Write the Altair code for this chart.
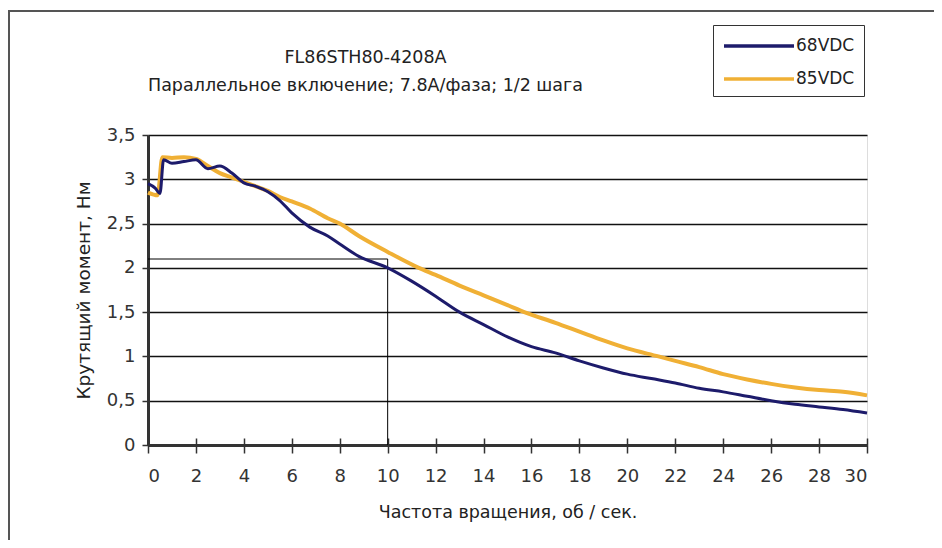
import altair as alt
import pandas as pd

# ---- data ----
series_names = ["68VDC", "85VDC"]
series_colors = ["#1d1b6b", "#f0b035"]

x_68 = [0, 0.3, 0.5, 0.65, 1, 1.5, 2, 2.5, 3, 3.5, 4, 4.5, 5, 5.5, 6, 6.75, 7.5, 8, 8.8,
        10, 11, 12, 13, 14, 15, 16, 17, 18, 19, 20, 21, 22, 23, 24, 25, 26, 27, 28, 29, 30]
y_68 = [2.95, 2.9, 2.84, 3.22, 3.18, 3.2, 3.22, 3.12, 3.15, 3.07, 2.96, 2.92, 2.86, 2.76, 2.62, 2.46, 2.36, 2.27, 2.13,
        2.0, 1.85, 1.68, 1.5, 1.36, 1.22, 1.11, 1.04, 0.95, 0.87, 0.8, 0.75, 0.7, 0.64, 0.6, 0.55, 0.5, 0.46, 0.43, 0.4, 0.36]

x_85 = [0, 0.4, 0.6, 1, 1.5, 2, 2.5, 3, 3.5, 4, 4.5, 5, 5.5, 6, 6.75, 7.5, 8, 8.8,
        10, 11.3, 12, 13, 14, 15, 15.7, 17, 18, 19, 20, 21.3, 22, 23, 24, 25, 26, 27, 28, 29, 30]
y_85 = [2.85, 2.82, 3.25, 3.24, 3.25, 3.23, 3.15, 3.07, 3.02, 2.97, 2.92, 2.87, 2.8, 2.75, 2.67, 2.56, 2.5, 2.36,
        2.18, 2.0, 1.92, 1.8, 1.69, 1.58, 1.5, 1.38, 1.28, 1.18, 1.09, 1.0, 0.95, 0.88, 0.8, 0.74, 0.69, 0.65, 0.62, 0.6, 0.56]

ref_x = [0, 10, 10]
ref_y = [2.1, 2.1, 0]

x_ticks = list(range(0, 31, 2))
y_ticks = [0, 0.5, 1, 1.5, 2, 2.5, 3, 3.5]

title_lines = ["FL86STH80-4208A", "Параллельное включение; 7.8А/фаза; 1/2 шага"]
x_title = "Частота вращения, об / сек."
y_title = "Крутящий момент, Нм"

FONT = "DejaVu Sans"

df68 = pd.DataFrame({"x": x_68, "y": y_68, "s": series_names[0], "o": range(len(x_68))})
df85 = pd.DataFrame({"x": x_85, "y": y_85, "s": series_names[1], "o": range(len(x_85))})
dfref = pd.DataFrame({"x": ref_x, "y": ref_y, "o": range(len(ref_x))})

xscale = alt.Scale(domain=[0, 30], nice=False, zero=False)
yscale = alt.Scale(domain=[0, 3.5], nice=False)
color = alt.Color("s:N", scale=alt.Scale(domain=series_names, range=series_colors),
                  legend=alt.Legend(title=None, orient="none", legendX=565, legendY=-110,
                                    symbolType="M-3.5,0H3.5", symbolSize=400, symbolOffset=25,
                                    symbolStrokeWidth=3.5, labelOffset=25, labelFontSize=17,
                                    labelFont=FONT, labelColor="#222", strokeColor="#333",
                                    padding=9, rowPadding=13, fillColor="white"))

yaxis = alt.Axis(values=y_ticks, grid=True, gridColor="#111", gridWidth=1.5,
                 tickSize=6, tickColor="#333", tickWidth=1.5,
                 domainColor="#333", domainWidth=3, labelFontSize=18, labelFont=FONT,
                 labelColor="#333", labelPadding=7,
                 labelExpr="replace(format(datum.value, ''), '.', ',')",
                 titleFontSize=18.5, titleFont=FONT, titleFontWeight="normal",
                 titleColor="#222", titlePadding=13)

# main x axis + y axis carried by the reference-rectangle layer
ref = alt.Chart(dfref).mark_line(color="black", strokeWidth=1).encode(
    x=alt.X("x:Q", scale=xscale, title=x_title,
            axis=alt.Axis(values=x_ticks, grid=False, tickSize=8, tickColor="#333", tickWidth=1.5,
                          domainColor="#333", domainWidth=3, labelFontSize=18, labelFont=FONT,
                          labelColor="#333", labelPadding=14, titleFontSize=17.5, titleFont=FONT,
                          titleFontWeight="normal", titleColor="#222", titlePadding=18)),
    y=alt.Y("y:Q", scale=yscale, title=y_title, axis=yaxis),
    order="o:Q",
)

# inward half of the x ticks (a top axis moved down onto the bottom)
l85 = alt.Chart(df85).mark_line(strokeWidth=4, interpolate="monotone").encode(
    x=alt.X("x:Q", scale=xscale,
            axis=alt.Axis(orient="top", offset=-310, values=x_ticks, labels=False, domain=False,
                          grid=False, tickSize=7, tickColor="#333", tickWidth=1.5, title=None)),
    y=alt.Y("y:Q", scale=yscale, title=y_title),
    color=color,
    order="o:Q",
)

l68 = alt.Chart(df68).mark_line(strokeWidth=3, interpolate="monotone").encode(
    x=alt.X("x:Q", scale=xscale, axis=None),
    y=alt.Y("y:Q", scale=yscale, title=y_title),
    color=color,
    order="o:Q",
)

frame = alt.Chart(pd.DataFrame({"k": [0]})).mark_rect(fill=None, stroke="#555", strokeWidth=2).encode(
    x=alt.value(-139), x2=alt.value(900), y=alt.value(-124), y2=alt.value(500)
)

chart = alt.layer(frame, ref, l85, l68).resolve_axis(x="independent").properties(
    width=719, height=310,
    autosize=alt.AutoSizeParams(type="none"),
    padding={"left": 140, "top": 127, "right": 67, "bottom": 95},
    title=alt.Title(text=title_lines, fontSize=17.5, font=FONT, fontWeight="normal", color="#222",
                    lineHeight=28, anchor="middle", dx=-142, offset=-84),
).configure_view(stroke="#888", strokeWidth=3).configure(background="white")

chart.save("out.html", embed_options={"renderer": "svg", "actions": False})
